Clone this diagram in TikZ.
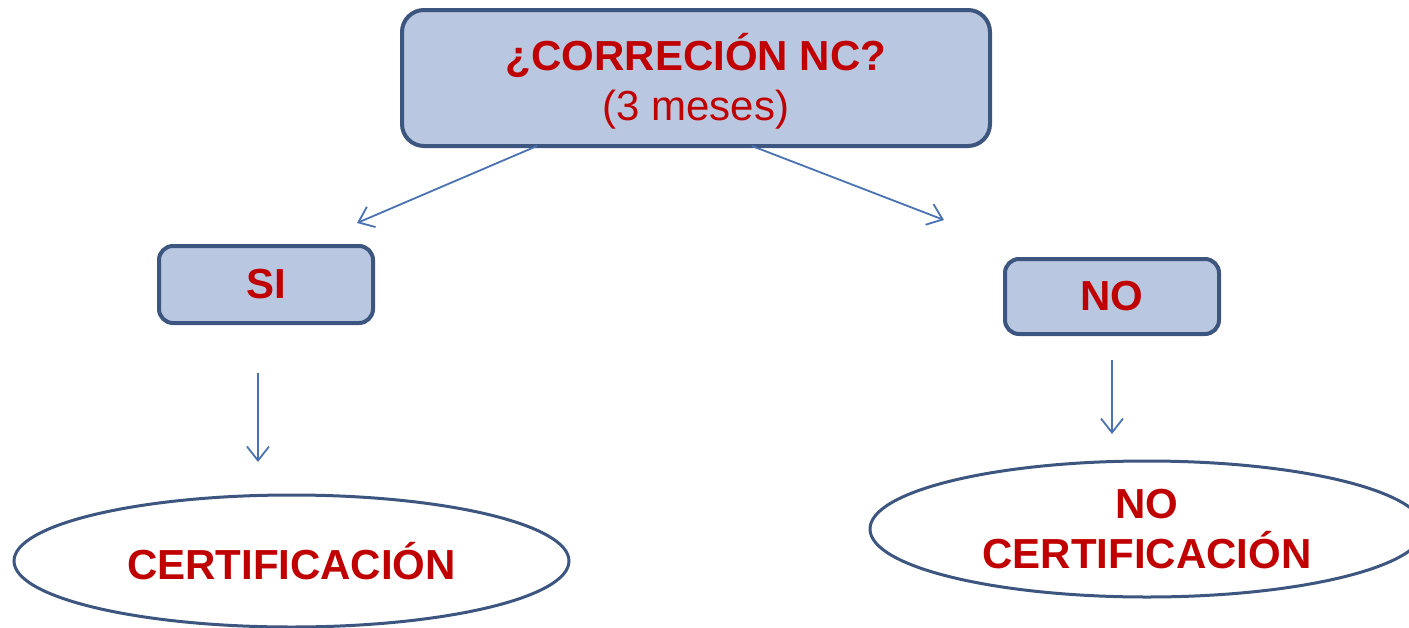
\documentclass[tikz,border=0pt]{standalone}
\usepackage{fontspec}
\setmainfont{Liberation Sans}
\usetikzlibrary{arrows.meta,shapes.geometric}
\definecolor{boxfill}{HTML}{B9C8E0}
\definecolor{boxline}{HTML}{3D5680}
\definecolor{arrowc}{HTML}{4A72B2}
\definecolor{textred}{HTML}{C00000}
\tikzset{
  decbox/.style={draw=boxline, fill=boxfill, line width=4pt, rounded corners=14pt, inner sep=0pt, text=textred, font=\fontsize{42}{48}\selectfont, align=center},
  resell/.style={ellipse, draw=boxline, line width=3pt, fill=white, inner sep=0pt, text=textred, font=\fontsize{42}{50}\selectfont\bfseries, align=center},
  conn/.style={draw=arrowc, line width=1.8pt, -{Straight Barb[length=14pt,width=22pt,line width=1.8pt]}}
}
\begin{document}
\begin{tikzpicture}[x=1pt,y=-1pt]
\useasboundingbox (0,0) rectangle (1409,627);
\node[decbox, rounded corners=22pt, minimum width=588pt, minimum height=136pt] (top) at (696,78) {};
\node[text=textred, font=\fontsize{42}{50}\selectfont, align=center, inner sep=0pt] (toptext) at (696,81) {\textbf{¿CORRECIÓN NC?}\\(3 meses)};
\node[decbox, minimum width=214pt, minimum height=77pt, font=\fontsize{42}{48}\selectfont\bfseries] (si) at (266,284.5) {SI};
\node[decbox, minimum width=214pt, minimum height=75pt, font=\fontsize{42}{48}\selectfont\bfseries] (no) at (1112,296.5) {NO};
\node[resell, minimum width=555pt, minimum height=132pt] (cert) at (291.5,561) {CERTIFICACI\'ON};
\node[resell, minimum width=554pt, minimum height=136pt] (nocert) at (1147,529) {NO\\CERTIFICACIÓN};
\coordinate (a1s) at (537,146);
\coordinate (a1e) at (357,223);
\coordinate (a2s) at (752,146);
\coordinate (a2e) at (944,220);
\coordinate (a3s) at (258,373);
\coordinate (a3e) at (258,462);
\coordinate (a4s) at (1112,360);
\coordinate (a4e) at (1112,434);
\draw[conn] (a1s) -- (a1e);
\draw[conn] (a2s) -- (a2e);
\draw[conn] (a3s) -- (a3e);
\draw[conn] (a4s) -- (a4e);
\end{tikzpicture}
\end{document}
